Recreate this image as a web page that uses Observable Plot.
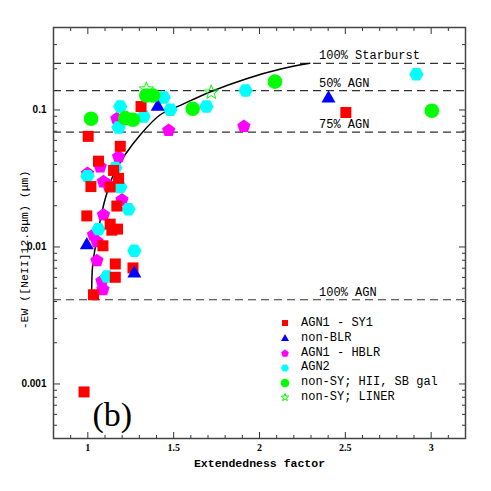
<!DOCTYPE html>
<html><head><meta charset="utf-8">
<script src="https://cdn.jsdelivr.net/npm/d3@7"></script>
<script src="https://cdn.jsdelivr.net/npm/@observablehq/plot@0.6"></script>
<style>
body{margin:0;background:#fff;}
#wrap{position:relative;width:491px;height:491px;}
#legend{position:absolute;left:279px;top:316px;font-family:"Liberation Mono",monospace;font-size:12px;color:#000;line-height:14.8px;}
#legend div{display:flex;align-items:center;height:14.8px;white-space:pre;}
#legend svg{margin-right:10px;}
</style></head><body><div id="wrap"></div>
<script>
// ---- data: [extendedness, -EW] ----
const agn1Sy1 = [[1.002,0.0642],[1.310,0.106],[1.189,0.0543],[1.062,0.0423],[1.150,0.0362],[1.179,0.0317],[1.018,0.0276],[1.130,0.0274],[1.169,0.0199],[0.994,0.01686],[1.130,0.01468],[1.140,0.01327],[1.173,0.0135],[1.088,0.0102],[1.160,0.00752],[1.263,0.00703],[1.160,0.00601],[1.033,0.00448],[2.503,0.0959],[0.978,0.000875]];
const nonBlr = [[0.994,0.0105],[1.271,0.00653],[1.407,0.1078],[2.402,0.1239]];
const agn1Hblr = [[1.169,0.0872],[1.471,0.0718],[1.179,0.046],[1.072,0.0389],[0.998,0.0348],[1.091,0.0303],[1.120,0.0286],[1.199,0.0223],[1.091,0.01734],[1.033,0.0124],[1.053,0.0111],[1.053,0.00804],[1.082,0.00569],[1.088,0.00495],[1.909,0.0768]];
const agn2 = [[1.189,0.106],[1.179,0.0746],[1.325,0.0897],[1.442,0.1232],[1.481,0.1003],[1.691,0.106],[1.919,0.1385],[2.914,0.182],[1.160,0.0378],[0.998,0.0329],[1.189,0.0274],[1.237,0.01886],[1.062,0.0135],[1.271,0.0094],[1.111,0.00608]];
const nonSyHii = [[1.019,0.0863],[1.218,0.0872],[1.263,0.0849],[1.341,0.1274],[1.380,0.1274],[1.611,0.102],[2.090,0.161],[3.004,0.0987]];
const nonSyLiner = [[1.341,0.1433],[1.719,0.136]];
const modelCurve = [[1.022,0.00421],[1.027,0.0071],[1.043,0.0099],[1.068,0.0147],[1.101,0.0224],[1.150,0.0339],[1.218,0.0473],[1.306,0.066],[1.422,0.0923],[1.539,0.108],[1.715,0.136],[1.929,0.170],[2.124,0.199],[2.293,0.219]];
const levelValues = [0.219, 0.1386, 0.069, 0.00412];
const levelLabels = ["100% Starburst", "50% AGN", "75% AGN", "100% AGN"];
const legendLabels = ["AGN1 - SY1", "non-BLR", "AGN1 - HBLR", "AGN2", "non-SY; HII, SB gal", "non-SY; LINER"];
const xMajor = [1, 1.5, 2, 2.5, 3];
const xMajorLabels = ["1", "1.5", "2", "2.5", "3"];
const yMajor = [0.001, 0.01, 0.1];
const yMajorLabels = ["0.001", "0.01", "0.1"];
const xTitle = "Extendedness factor";
const yTitle = "-EW ([NeII]12.8\u03bcm) (\u03bcm)";
const panelLabel = "(b)";

// ---- symbols ----
const sqSym = {draw(c, s){const r=Math.sqrt(s/Math.PI); c.rect(-r,-r,2*r,2*r);}};
const triSym = {draw(c, s){const r=Math.sqrt(s/Math.PI); c.moveTo(0,-r); c.lineTo(r,0.75*r); c.lineTo(-r,0.75*r); c.closePath();}};
const pentSym = {draw(c, s){const r=Math.sqrt(s/Math.PI); for(let i=0;i<5;i++){const a=-Math.PI/2+i*2*Math.PI/5; const x=r*Math.cos(a), y=r*Math.sin(a)+0.1*r; i?c.lineTo(x,y):c.moveTo(x,y);} c.closePath();}};
const hexSym = {draw(c, s){const r=Math.sqrt(s/Math.PI); for(let i=0;i<6;i++){const a=i*Math.PI/3; const x=r*Math.cos(a), y=r*Math.sin(a); i?c.lineTo(x,y):c.moveTo(x,y);} c.closePath();}};
const starSym = {draw(c, s){const r=Math.sqrt(s/Math.PI); for(let i=0;i<10;i++){const a=-Math.PI/2+i*Math.PI/5; const rr=i%2?r*0.42:r; const x=rr*Math.cos(a), y=rr*Math.sin(a)+0.1*r; i?c.lineTo(x,y):c.moveTo(x,y);} c.closePath();}};

const series = [
  {data: agn1Hblr, sym: pentSym, color: "#ff00ff", r: 7},
  {data: agn2, sym: hexSym, color: "#00ffff", r: 7.2},
  {data: agn1Sy1, sym: sqSym, color: "#ff0000", r: 5.5},
  {data: nonBlr, sym: triSym, color: "#0000ff", r: 7},
  {data: nonSyHii, sym: "circle", color: "#00ff00", r: 7.3},
];

const xMinor = d3.range(8, 33).map(d => d / 10).filter(d => !xMajor.includes(d));
const yMinor = [];
for (const e of [1e-4, 1e-3, 1e-2, 1e-1]) for (let k = 2; k <= 9; k++) { const v = +(k * e).toPrecision(2); if (v >= 0.0004 && v <= 0.4) yMinor.push(v); }

const fontMono = "Liberation Mono, monospace";
const levels = levelValues.map((v, i) => ({value: v, label: levelLabels[i]}));

const chart = Plot.plot({
  width: 491, height: 491,
  marginLeft: 53, marginRight: 26, marginTop: 27, marginBottom: 53,
  style: {fontFamily: fontMono, background: "#fff", color: "#000"},
  x: {domain: [0.8, 3.2]},
  y: {type: "log", domain: [0.0004, 0.4]},
  marks: [
    Plot.ruleY(levels, {y: "value", stroke: "#333", strokeWidth: 1.2, strokeDasharray: "8,5"}),
    Plot.text(levels, {x: 2.347, y: "value", text: "label", textAnchor: "start", lineAnchor: "bottom", dy: -4, fontSize: 12, fontFamily: fontMono, fill: "#000"}),
    Plot.line(modelCurve, {x: d => d[0], y: d => d[1], stroke: "#000", strokeWidth: 1.5, curve: "catmull-rom"}),
    ...series.map(s => Plot.dot(s.data, {x: d => d[0], y: d => d[1], symbol: s.sym, r: s.r, fill: s.color, stroke: "none"})),
    Plot.dot(nonSyLiner, {x: d => d[0], y: d => d[1], symbol: starSym, r: 7.5, fill: "none", stroke: "#00ff00", strokeWidth: 1}),
    // ticks (inward)
    Plot.axisX(xMinor, {anchor: "bottom", tickSize: -3, fill: "none", label: null, stroke: "#333"}),
    Plot.axisX(xMajor, {anchor: "bottom", tickSize: -6, fill: "none", label: null, stroke: "#333"}),
    Plot.axisX(xMinor, {anchor: "top", tickSize: -3, fill: "none", label: null, stroke: "#333"}),
    Plot.axisX(xMajor, {anchor: "top", tickSize: -6, fill: "none", label: null, stroke: "#333"}),
    Plot.axisY(yMinor, {anchor: "left", tickSize: -4, fill: "none", label: null, stroke: "#333"}),
    Plot.axisY(yMajor, {anchor: "left", tickSize: -7, fill: "none", label: null, stroke: "#333"}),
    Plot.axisY(yMinor, {anchor: "right", tickSize: -4, fill: "none", label: null, stroke: "#333"}),
    Plot.axisY(yMajor, {anchor: "right", tickSize: -7, fill: "none", label: null, stroke: "#333"}),
    // tick labels
    Plot.axisX(xMajor, {anchor: "bottom", tickSize: 0, tickPadding: 5, tickFormat: d => xMajorLabels[xMajor.indexOf(d)], label: null, fontSize: 10, fontWeight: "bold", fontFamily: "Liberation Serif, serif"}),
    Plot.axisY(yMajor, {anchor: "left", tickSize: 0, tickPadding: 7, tickFormat: d => yMajorLabels[yMajor.indexOf(d)], label: null, fontSize: 10, fontWeight: "bold", fontFamily: "Liberation Sans, sans-serif"}),
    Plot.text([xTitle], {frameAnchor: "bottom", dy: 28, text: d => d, fontSize: 11.5, fontWeight: "bold", fontFamily: fontMono}),
    Plot.text([panelLabel], {frameAnchor: "bottom-left", dx: 39, dy: -13, lineAnchor: "bottom", textAnchor: "start", text: d => d, fontSize: 34, fontFamily: "Liberation Serif, serif"}),
    Plot.frame({stroke: "#444", strokeWidth: 1.5})
  ]
});
const wrap = document.getElementById("wrap");
wrap.appendChild(chart);

// y-axis title
d3.select(chart).append("text")
  .attr("transform", "translate(28,250) rotate(-90)")
  .attr("text-anchor", "middle")
  .attr("font-family", fontMono)
  .attr("font-size", 11.5)
  .attr("fill", "#000")
  .text(yTitle);

// legend
const legendSyms = [sqSym, triSym, pentSym, hexSym, "circle", starSym];
const legendColors = ["#ff0000", "#0000ff", "#ff00ff", "#00ffff", "#00ff00", "#00ff00"];
const legendR = [3, 4, 4, 4, 4.3, 4];
const leg = document.createElement("div");
leg.id = "legend";
legendLabels.forEach((lab, i) => {
  const row = document.createElement("div");
  const sw = d3.create("svg").attr("width", 12).attr("height", 12);
  const sym = legendSyms[i] === "circle" ? d3.symbolCircle : legendSyms[i];
  const r = legendR[i];
  sw.append("path").attr("transform", "translate(6,6)")
    .attr("d", d3.symbol(sym, Math.PI * r * r)())
    .attr("fill", i === 5 ? "none" : legendColors[i])
    .attr("stroke", i === 5 ? legendColors[i] : "none");
  row.appendChild(sw.node());
  const t = document.createElement("span");
  t.textContent = lab;
  row.appendChild(t);
  leg.appendChild(row);
});
wrap.appendChild(leg);
</script>
</body></html>
